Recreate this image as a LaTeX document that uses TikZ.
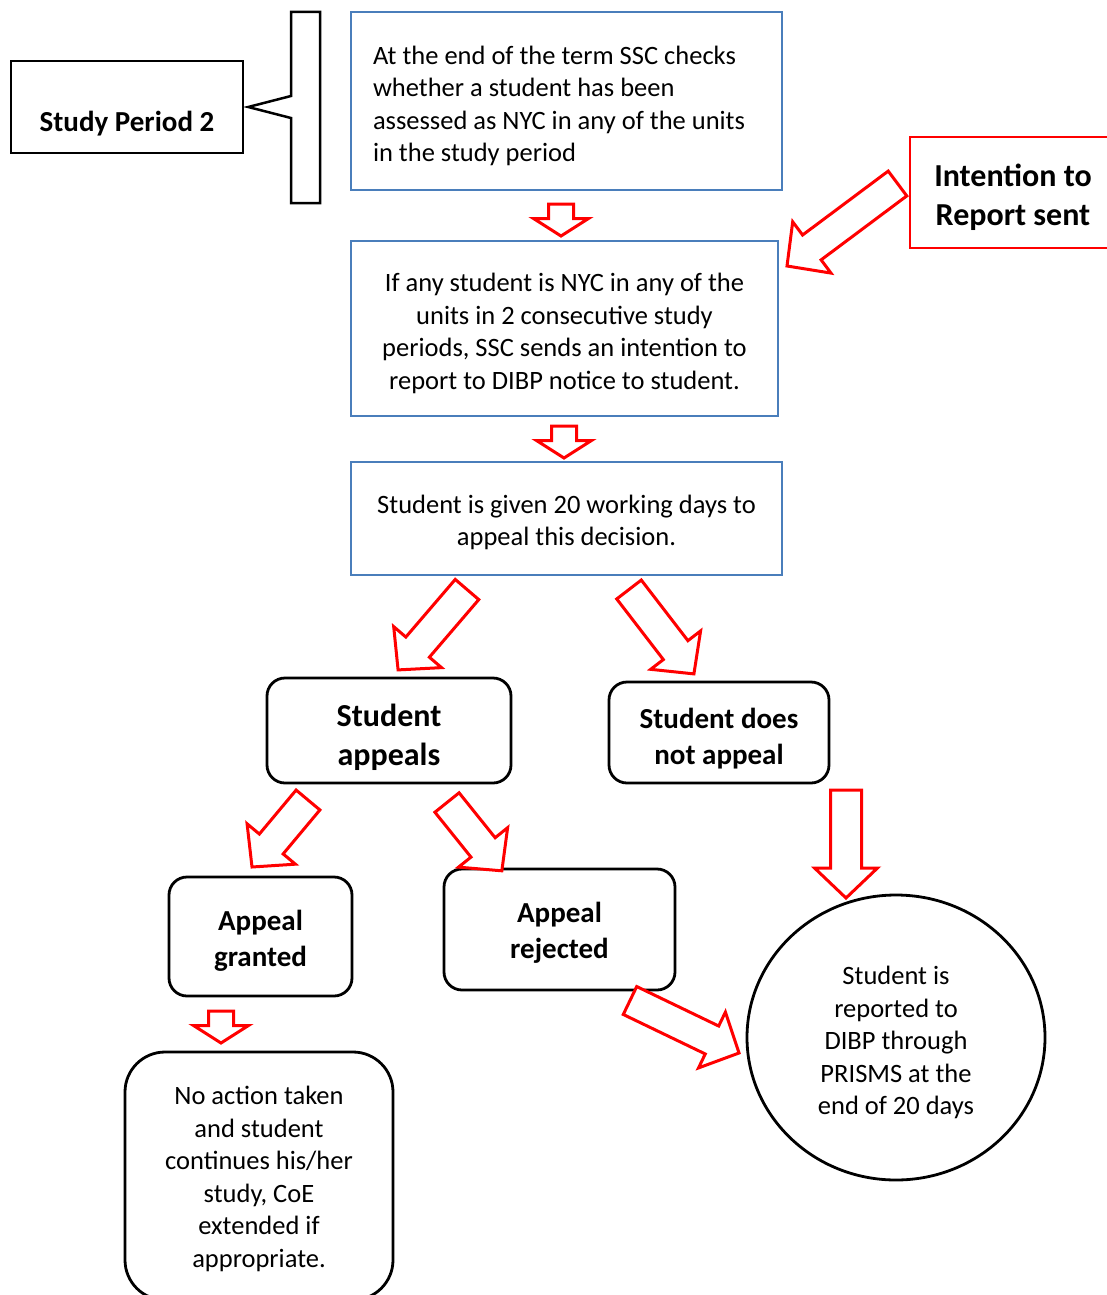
\documentclass[tikz,border=0pt]{standalone}
\usepackage{fontspec}
\setmainfont{Carlito}
\usetikzlibrary{shapes.geometric}

\definecolor{boxblue}{RGB}{74,126,187}

% invisible strut that pushes the first line down
\newcommand{\topgap}[1]{\rule{0pt}{#1pt}}

% block arrow: tail x, tail y, tip x, tip y, shaft half width, head half width, head length
\newcommand{\redarrow}[7]{%
  \pgfmathsetmacro{\arrang}{atan2(#2-#4,#3-#1)}%
  \pgfmathsetmacro{\arrlen}{veclen(#3-#1,#4-#2)}%
  \begin{scope}[shift={(#1,#2)},rotate=\arrang]
    \draw[blockarrow] (0,-#5) -- ({\arrlen-#7},-#5) -- ({\arrlen-#7},-#6) -- (\arrlen,0)
      -- ({\arrlen-#7},#6) -- ({\arrlen-#7},#5) -- (0,#5) -- cycle;
  \end{scope}}

\begin{document}
\begin{tikzpicture}
        [x=1pt,y=-1pt,
        bodytext/.style = {font=\fontsize{26.5}{32.5}\selectfont},
        boldtext/.style = {font=\fontsize{29}{36}\selectfont\bfseries},
        largetext/.style = {font=\fontsize{32}{39}\selectfont\bfseries},
        flow/.style = {draw=boxblue, line width=2.5pt, bodytext,
        align=center, inner sep=0pt},
        stage/.style = {draw, line width=2.8pt, rounded corners=18,
        boldtext, align=center, inner sep=0pt},
        blockarrow/.style = {draw=red, line width=3pt, fill=white}]

        \useasboundingbox (0,0) rectangle (1107,1295);

        % Study period and its bracket
        \node[draw, line width=2.5pt, minimum width=232, inner ysep=0pt,
          text height=70.5, text depth=21.5,
          font=\fontsize{29}{36}\selectfont\bfseries] (sp2) at (127,107) {Study Period 2};
        \draw[line width=2.5pt] (291,96) -- (291,12) -- (320,12) -- (320,203)
          -- (291,203) -- (291,118) -- ([xshift=4pt]sp2.east) -- cycle;

        % Blue process boxes
        \node[flow, align=flush left, text width=387, inner xsep=22, minimum height=178]
          (check) at (566.5,101) {\topgap{28}At the end of the term SSC checks\\
          whether a student has been\\ assessed as NYC in any of the units\\ in the study period};
        \node[flow, minimum width=427, minimum height=175] (notice) at (564.5,328.5)
          {\topgap{28.5}If any student is NYC in any of the\\ units in 2 consecutive study\\
          periods, SSC sends an intention to\\ report to DIBP notice to student.};
        \node[flow, minimum width=431, minimum height=113] (given) at (566.5,518.5)
          {\topgap{26.5}Student is given 20 working days to\\ appeal this decision.};

        % Intention
        \node[draw=red, line width=2.5pt, minimum width=206, minimum height=111,
          largetext, align=center] (intent)
          at (1013,192.5) {\topgap{32.5}Intention to\\ Report sent};

        % Outcomes
        \node[stage, largetext, minimum width=244,
          minimum height=105] (appeals) at (389,730.5) {\topgap{36}Student\\ appeals};
        \node[stage, minimum width=220, minimum height=101] (noappeal) at (719,732.5)
          {\topgap{32}Student does\\ not appeal};
        \node[stage, minimum width=183, minimum height=119] (granted) at (260.5,936.5)
          {\topgap{28}Appeal\\ granted};
        \node[stage, minimum width=231, minimum height=121] (rejected) at (559.5,929.5)
          {\topgap{26.5}Appeal\\ rejected};
        \node[stage, bodytext, rounded corners=40, minimum width=268, minimum height=248]
          (noaction) at (259,1176) {\topgap{24.5}No action taken\\ and student\\
          continues his/her\\ study, CoE\\ extended if\\ appropriate.};
        \node[draw, ellipse, line width=2.8pt, minimum width=298, minimum height=285,
          bodytext, align=center, inner sep=0pt] (reported) at (896,1037.5)
          {\topgap{28.5}Student is\\ reported to\\ DIBP through\\ PRISMS at the\\ end of 20 days};

        % Red block arrows
        \redarrow{561}{204}{561}{236}{12.5}{27.5}{17.5}
        \redarrow{564}{426}{564}{458}{12.5}{27.5}{17.5}
        \redarrow{897.5}{183.5}{787}{266}{15.5}{32}{31}
        \redarrow{467}{589.5}{398}{670}{15.5}{31.5}{30}
        \redarrow{629}{589.5}{694}{674}{15.5}{31.5}{30}
        \redarrow{308}{800}{252}{867}{15.5}{31.5}{30}
        \redarrow{447}{802.5}{502}{871}{15.5}{31.5}{30}
        \redarrow{846}{790}{846}{898}{15.5}{31.5}{30}
        \redarrow{630}{1000.5}{739}{1053}{15.5}{31}{30}
        \redarrow{221}{1011}{221}{1043}{12.5}{27.5}{17.5}
    \end{tikzpicture}
\end{document}
